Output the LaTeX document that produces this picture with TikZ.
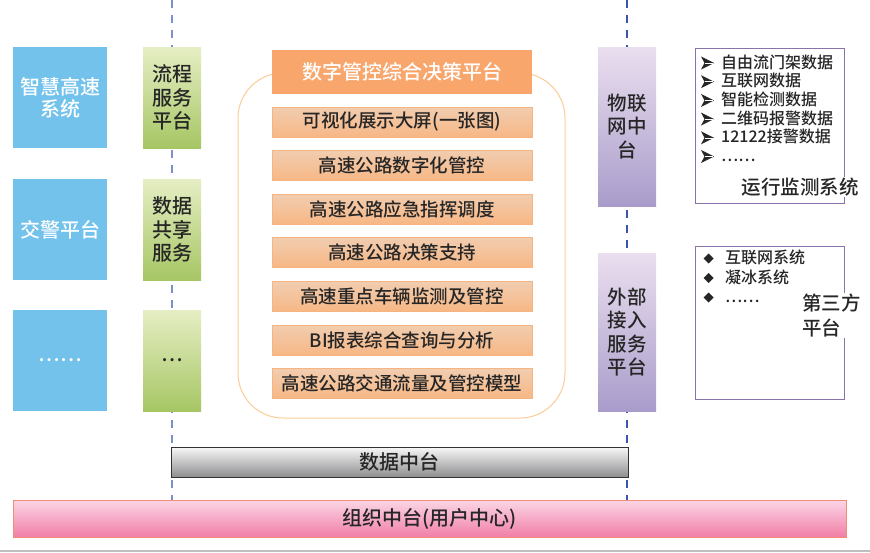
\documentclass[tikz,border=0pt]{standalone}
\usepackage{fontspec}
\setmainfont{Noto Sans CJK SC}[UprightFont={* Medium}]
\newfontfamily\symfont{DejaVu Sans}
\definecolor{bluefill}{HTML}{72C2EC}
\definecolor{greentop}{HTML}{E6EEC4}
\definecolor{greenbot}{HTML}{A6C664}
\definecolor{purtop}{HTML}{EADFEF}
\definecolor{purbot}{HTML}{A99CCB}
\definecolor{headorange}{HTML}{F8A66C}
\definecolor{itemtop}{HTML}{F1CDB0}
\definecolor{itembot}{HTML}{F7B785}
\definecolor{itemborder}{HTML}{F8B480}
\definecolor{outlinec}{HTML}{FBCB98}
\definecolor{listborder}{HTML}{8A72AC}
\definecolor{dashleft}{HTML}{7D8FCC}
\definecolor{dashright}{HTML}{3A55B0}
\definecolor{datatop}{HTML}{F8F8F8}
\definecolor{databot}{HTML}{8E8E90}
\definecolor{pinktop}{HTML}{FAD6E5}
\definecolor{pinkbot}{HTML}{F27EA8}
\definecolor{pinkborder}{HTML}{F28C78}
\definecolor{darktext}{HTML}{262626}
\tikzset{
  bluebox/.style={fill=bluefill, text=white, minimum width=94, minimum height=101, inner sep=0, align=center, font=\fontsize{20}{22}\selectfont},
  greenbox/.style={top color=greentop, bottom color=greenbot, draw=none, text=darktext, minimum width=58, minimum height=101, inner sep=0, align=center, font=\fontsize{20}{23.3}\selectfont},
  purbox/.style={top color=purtop, bottom color=purbot, draw=none, text=darktext, minimum width=58, inner sep=0, align=center, font=\fontsize{19.5}{23.3}\selectfont},
  headbox/.style={fill=headorange, text=white, minimum width=260, minimum height=44, inner sep=0, font=\fontsize{20}{23}\selectfont},
  itembox/.style={top color=itemtop, bottom color=itembot, draw=itemborder, line width=0.8, text=darktext, minimum width=260, minimum height=30, inner sep=0, font=\fontsize{18.5}{21}\selectfont},
  listbox/.style={draw=listborder, line width=1, fill=white},
  listtxt/.style={anchor=west, inner sep=0, text height=12, text depth=2, text=darktext, font=\fontsize{16}{18}\selectfont},
  bigtxt/.style={fill=white, inner sep=1, text=darktext, align=left, font=\fontsize{19.5}{25}\selectfont},
  guide/.style={line width=1.6, dash pattern=on 8 off 7},
  barlabel/.style={text=darktext, font=\fontsize{20}{23}\selectfont},
  arrowbullet/.pic={
    \fill[darktext] (-6.5,-6.5) -- (6.5,0) -- (-6.5,6.5) -- (-3,0) -- cycle;
    \draw[white, line width=0.6] (-2.6,0) -- (5.5,0);
  },
  diamondbullet/.pic={
    \fill[darktext] (0,-5) -- (5,0) -- (0,5) -- (-5,0) -- cycle;
  }
}
\begin{document}
\begin{tikzpicture}[x=1pt,y=-1pt]
\useasboundingbox (0,0) rectangle (870,552);
% guide lines
\coordinate (gl1) at (172,0);
\coordinate (gl2) at (172,500);
\coordinate (gr1) at (627,0);
\coordinate (gr2) at (627,500);
\draw[guide, dashleft] (gl1) -- (gl2);
\draw[guide, dashright] (gr1) -- (gr2);
% left columns
\node[bluebox] (b1) at (60,97.5) {智慧高速\\系统};
\node[bluebox] (b2) at (60,229.5) {交警平台};
\node[bluebox] (b3) at (60,360.5) {……};
\node[greenbox] (g1) at (172,97.5) {流程\\服务\\平台};
\node[greenbox] (g2) at (172,229.5) {数据\\共享\\服务};
\node[greenbox] (g3) at (172,360.5) {…};
% centre panel
\draw[outlinec, line width=1, rounded corners=45] (238,73) rectangle (565,418);
\node[headbox] (hd) at (402,72) {数字管控综合决策平台};
\node[itembox] (i1) at (402,122) {可视化展示大屏(一张图)};
\node[itembox] (i2) at (402,165.5) {高速公路数字化管控};
\node[itembox] (i3) at (402,209) {高速公路应急指挥调度};
\node[itembox] (i4) at (402,252.5) {高速公路决策支持};
\node[itembox] (i5) at (402,296.5) {高速重点车辆监测及管控};
\node[itembox] (i6) at (402,340) {BI报表综合查询与分析};
\node[itembox] (i7) at (402,383.5) {高速公路交通流量及管控模型};
% right columns
\node[purbox, minimum height=159] (p1) at (627,126.5) {物联\\网中\\台};
\node[purbox, minimum height=158] (p2) at (627,332) {外部\\接入\\服务\\平台};
\draw[listbox] (695,48) rectangle (844,203);
\foreach \yy in {63,81.7,100.4,119.1,137.8,156.5} {\pic at (707.5,\yy) {arrowbullet};}
\node[listtxt] (r1) at (721,63) {自由流门架数据};
\node[listtxt] (r2) at (721,81.7) {互联网数据};
\node[listtxt] (r3) at (721,100.4) {智能检测数据};
\node[listtxt] (r4) at (721,119.1) {二维码报警数据};
\node[listtxt] (r5) at (721,137.8) {12122接警数据};
\node[listtxt] (r6) at (721,156.5) {……};
\node[bigtxt] (run) at (800,187) {运行监测系统};
\draw[listbox] (695,246) rectangle (844,399);
\foreach \yy in {258.5,278,297.5} {\pic at (708.5,\yy) {diamondbullet};}
\node[listtxt] (s1) at (725,258.5) {互联网系统};
\node[listtxt] (s2) at (725,278) {凝冰系统};
\node[listtxt] (s3) at (725,297.5) {……};
\node[bigtxt, anchor=west] (third) at (801,315.5) {第三方\\平台};
% bottom bars
\node[top color=datatop, bottom color=databot, draw=black!80, line width=0.8, minimum width=457, minimum height=30, inner sep=0] (data) at (399.5,462) {};
\node[barlabel] (datalbl) at (data.center) {数据中台};
\node[top color=pinktop, bottom color=pinkbot, draw=pinkborder, line width=1, minimum width=833, minimum height=37, inner sep=0] (org) at (429.5,518.5) {};
\node[barlabel] (orglbl) at (org.center) {组织中台(用户中心)};
\coordinate (base1) at (0,551);
\coordinate (base2) at (870,551);
\draw[black!25, line width=1.2] (base1) -- (base2);
\end{tikzpicture}
\end{document}
